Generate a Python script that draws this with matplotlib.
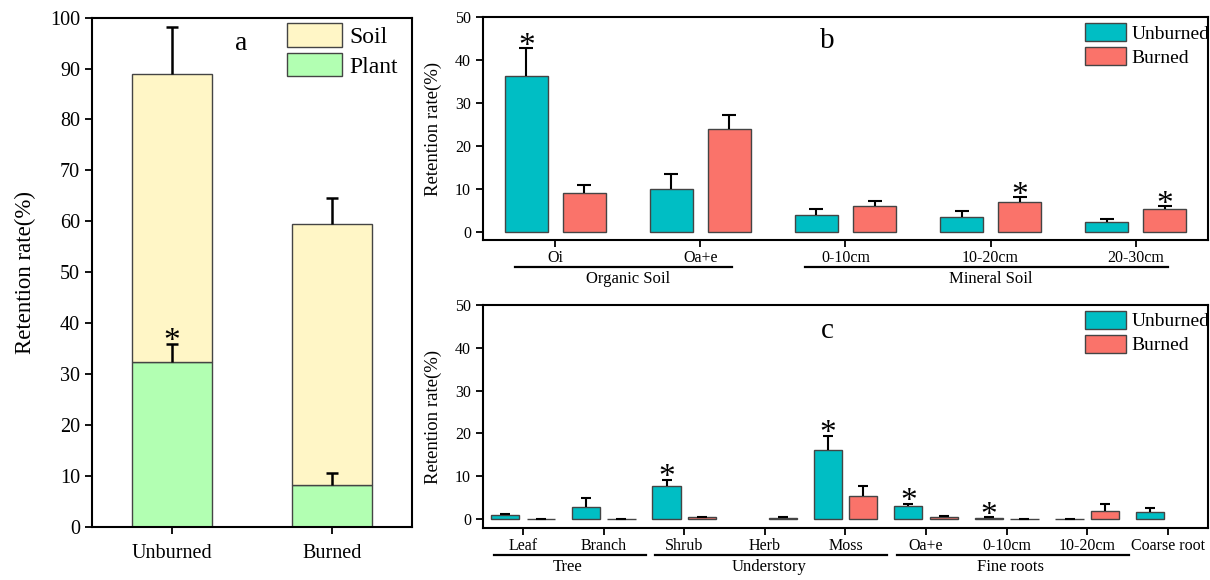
import numpy as np
import matplotlib
matplotlib.use("Agg")
import matplotlib.pyplot as plt

plt.rcParams['font.family'] = ['Liberation Serif', 'DejaVu Serif']

# panel a
a_groups = ["Unburned", "Burned"]
a_plant = [32.3, 8.3]
a_plant_err = [3.7, 2.3]
a_soil = [56.7, 51.2]
a_total_err = [9.2, 5.1]
a_plant_star = [True, False]

# panel b
b_cats = ["Oi", "Oa+e", "0-10cm", "10-20cm", "20-30cm"]
b_unburned = [36.4, 10.1, 4.1, 3.6, 2.25]
b_unburned_err = [6.4, 3.4, 1.3, 1.4, 0.8]
b_burned = [9.2, 24.0, 6.0, 6.9, 5.3]
b_burned_err = [1.7, 3.3, 1.3, 1.2, 0.7]
b_star_unb = [True, False, False, False, False]
b_star_bur = [False, False, False, True, True]
b_groups = [("Organic Soil", 0, 1), ("Mineral Soil", 2, 4)]

# panel c
c_cats = ["Leaf", "Branch", "Shrub", "Herb", "Moss", "Oa+e", "0-10cm", "10-20cm", "Coarse root"]
c_unburned = [0.9, 2.9, 7.7, np.nan, 16.1, 3.0, 0.25, 0.05, 1.65]
c_unburned_err = [0.35, 1.9, 1.4, np.nan, 3.4, 0.6, 0.1, 0.05, 0.85]
c_burned = [0.05, 0.05, 0.4, 0.25, 5.4, 0.45, 0.05, 1.8, np.nan]
c_burned_err = [0.05, 0.05, 0.15, 0.15, 2.2, 0.15, 0.05, 1.7, np.nan]
c_star_unb = [False, False, True, False, True, True, True, False, False]
c_star_bur = [False] * 9
c_groups = [("Tree", 0, 1), ("Understory", 2, 4), ("Fine roots", 5, 7)]

teal = '#00BEC4'
salmon = '#FA736A'
soil_col = '#FFF6C6'
plant_col = '#B2FFB2'
edge = '#444444'


def style_axes(ax, tick_size):
    for s in ax.spines.values():
        s.set_linewidth(1.5)
    ax.tick_params(direction='out', length=5, width=1.3, labelsize=tick_size)


def up_errorbar(ax, x, y, err, capsize, lw):
    # only the upper half of the error bar is drawn
    eb = ax.errorbar(x, y, yerr=[np.zeros(len(err)), err], fmt='none', ecolor='black',
                     elinewidth=lw, capsize=capsize, capthick=lw, zorder=3)
    eb[1][0].set_visible(False)


def add_stars(ax, xs, tops, flags, size):
    for x, t, f in zip(xs, tops, flags):
        if f:
            ax.annotate("*", xy=(x, t), xytext=(0, -4.5), textcoords='offset points',
                        ha='center', va='baseline', fontsize=size)


def paired_panel(ax, cats, unb, unb_err, bur, bur_err, s_unb, s_bur, groups,
                 letter, letter_y, width, off, capsize, ymin, pads):
    x = np.arange(len(cats))
    unb = np.array(unb); bur = np.array(bur)
    unb_err = np.array(unb_err); bur_err = np.array(bur_err)
    ax.bar(x - off, unb, width, color=teal, edgecolor=edge, linewidth=1, label='Unburned', zorder=2)
    ax.bar(x + off, bur, width, color=salmon, edgecolor=edge, linewidth=1, label='Burned', zorder=2)
    up_errorbar(ax, x - off, unb, unb_err, capsize, 1.5)
    up_errorbar(ax, x + off, bur, bur_err, capsize, 1.5)
    add_stars(ax, x - off, unb + unb_err, s_unb, 24)
    add_stars(ax, x + off, bur + bur_err, s_bur, 24)
    ax.set_xlim(-0.5, len(cats) - 0.5)
    ax.set_ylim(ymin, 50)
    ax.set_yticks(np.arange(0, 51, 10))
    ax.set_xticks(x)
    ax.set_xticklabels(cats, fontsize=12)
    style_axes(ax, 11.5)
    ax.tick_params(axis='x', pad=2)
    ax.set_ylabel("Retention rate(%)", fontsize=13.5)
    ax.yaxis.set_label_coords(-0.056, 0.5)
    ax.text(0.475, letter_y, letter, transform=ax.transAxes, fontsize=21, ha='center', va='center')
    ax.legend(loc='upper left', bbox_to_anchor=(0.822, 1.0), frameon=False, fontsize=14,
              handlelength=2.1, handleheight=1.05, labelspacing=0.22, handletextpad=0.3,
              borderaxespad=0.2, borderpad=0.1)
    tr = ax.get_xaxis_transform()
    for name, i0, i1 in groups:
        ax.plot([i0 - pads[0], i1 + pads[1]], [-0.122, -0.122], color='black', lw=1.6,
                transform=tr, clip_on=False)
        ax.text((i0 + i1) / 2 + pads[2], -0.138, name, transform=tr, ha='center', va='top',
                fontsize=12)


fig = plt.figure(figsize=(12.1, 5.8), dpi=100)

# ---- panel a
ax = fig.add_axes([0.076, 0.0914, 0.2645, 0.8783])
xa = np.arange(len(a_groups))
plant = np.array(a_plant)
soil = np.array(a_soil)
ax.bar(xa, plant, 0.5, color=plant_col, edgecolor=edge, linewidth=1, label='Plant', zorder=2)
ax.bar(xa, soil, 0.5, bottom=plant, color=soil_col, edgecolor=edge, linewidth=1, label='Soil', zorder=2)
up_errorbar(ax, xa, plant, a_plant_err, 4.5, 1.8)
up_errorbar(ax, xa, plant + soil, a_total_err, 4.5, 1.8)
add_stars(ax, xa, plant + np.array(a_plant_err), a_plant_star, 24)
ax.set_xlim(-0.5, 1.5)
ax.set_ylim(0, 100)
ax.set_yticks(np.arange(0, 101, 10))
ax.set_xticks(xa)
ax.set_xticklabels(a_groups, fontsize=15)
style_axes(ax, 14.5)
ax.tick_params(axis='x', pad=7)
ax.set_ylabel("Retention rate(%)", fontsize=16.5)
ax.yaxis.set_label_coords(-0.175, 0.5)
ax.text(0.465, 0.95, "a", transform=ax.transAxes, fontsize=20, ha='center', va='center')
h, l = ax.get_legend_handles_labels()
ax.legend(h[::-1], l[::-1], loc='upper left', bbox_to_anchor=(0.59, 1.0), frameon=False,
          fontsize=17, handlelength=2.35, handleheight=1.15, labelspacing=0.2,
          handletextpad=0.3, borderaxespad=0.15, borderpad=0.1)

# ---- panel b
axb = fig.add_axes([0.399, 0.586, 0.5995, 0.384])
paired_panel(axb, b_cats, b_unburned, b_unburned_err, b_burned, b_burned_err,
             b_star_unb, b_star_bur, b_groups, "b", 0.895, 0.3, 0.2, 5, -1.86, (0.28, 0.22, 0.0))

# ---- panel c
axc = fig.add_axes([0.399, 0.0897, 0.5995, 0.3845])
paired_panel(axc, c_cats, c_unburned, c_unburned_err, c_burned, c_burned_err,
             c_star_unb, c_star_bur, c_groups, "c", 0.885, 0.35, 0.22, 3.6, -2.1, (0.36, 0.52, 0.05))

fig.savefig("out.png", dpi=100)
